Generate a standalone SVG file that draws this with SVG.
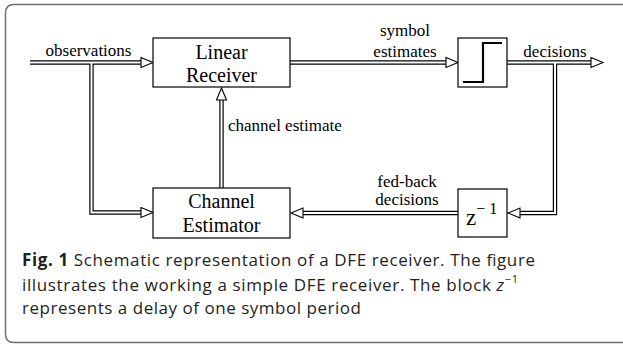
<svg xmlns="http://www.w3.org/2000/svg" width="623" height="346" viewBox="0 0 623 346">
  <style>
    .frame { fill: none; stroke: #707070; stroke-width: 1.5; }
    .box { fill: #ffffff; stroke: #000000; stroke-width: 1.2; }
    .boxtxt { font-family: "Liberation Serif", "Times New Roman", serif; font-size: 20px; fill: #000000; text-anchor: middle; }
    .lbl { font-family: "Liberation Serif", "Times New Roman", serif; font-size: 17px; fill: #000000; }
    .mid { text-anchor: middle; }
    .outer { fill: none; stroke: #000000; stroke-width: 4.4; stroke-linejoin: miter; }
    .inner { fill: none; stroke: #ffffff; stroke-width: 2; stroke-linejoin: miter; }
    .head { fill: #ffffff; stroke: #000000; stroke-width: 1.1; stroke-linejoin: miter; }
    .step { fill: none; stroke: #000000; stroke-width: 2.2; }
    .cap { font-family: "Open Sans", "Noto Sans", sans-serif; font-size: 17px; fill: #231f20; }
  </style>
  <defs>
    <!-- hollow arrowhead, tip at origin, pointing along +x -->
    <path id="head" class="head" d="M-12,-5 L0,0 L-12,5 Z"/>
  </defs>

  <!-- caption frame, open on the right -->
  <path class="frame" d="M630,4.5 H14 Q5.5,4.5 5.5,13 V334 Q5.5,342.5 14,342.5 H630"/>

  <!-- connectors: double lines with hollow heads -->
  <g id="connectors">
    <g>
      <path class="outer" d="M30,62.5 H141"/>
      <path class="outer" d="M91.5,62.5 V212.5 H141"/>
      <path class="outer" d="M290,62.5 H446"/>
      <path class="outer" d="M507,62.5 H591"/>
      <path class="outer" d="M555,62.5 V213 H520"/>
      <path class="outer" d="M458,213 H303"/>
      <path class="outer" d="M221.5,188 V100"/>
    </g>
    <g>
      <path class="inner" d="M30,62.5 H141"/>
      <path class="inner" d="M91.5,62.5 V212.5 H141"/>
      <path class="inner" d="M290,62.5 H446"/>
      <path class="inner" d="M507,62.5 H591"/>
      <path class="inner" d="M555,62.5 V213 H520"/>
      <path class="inner" d="M458,213 H303"/>
      <path class="inner" d="M221.5,188 V100"/>
    </g>
    <use href="#head" transform="translate(153,62.5)"/>
    <use href="#head" transform="translate(153,212.5)"/>
    <use href="#head" transform="translate(458,62.5)"/>
    <use href="#head" transform="translate(603,62.5)"/>
    <use href="#head" transform="translate(508,213) rotate(180)"/>
    <use href="#head" transform="translate(291,213) rotate(180)"/>
    <use href="#head" transform="translate(221.5,88) rotate(-90)"/>

    <text class="lbl mid" x="88.5" y="56">observations</text>
    <text class="lbl mid" x="405" y="36">symbol</text>
    <text class="lbl mid" x="405" y="56.5">estimates</text>
    <text class="lbl mid" x="555" y="57">decisions</text>
    <text class="lbl" x="228" y="131">channel estimate</text>
    <text class="lbl mid" x="407" y="187">fed-back</text>
    <text class="lbl mid" x="407" y="205">decisions</text>
  </g>

  <g id="linear-receiver">
    <rect class="box" x="153" y="38" width="137" height="49"/>
    <text class="boxtxt" x="221.5" y="59">Linear</text>
    <text class="boxtxt" x="221.5" y="82">Receiver</text>
  </g>

  <g id="decision-device">
    <rect class="box" x="458" y="38" width="49" height="49"/>
    <path class="step" d="M463,82 H483 V43 H502"/>
  </g>

  <g id="channel-estimator">
    <rect class="box" x="153" y="188" width="137" height="50"/>
    <text class="boxtxt" x="221.5" y="208">Channel</text>
    <text class="boxtxt" x="221.5" y="232">Estimator</text>
  </g>

  <g id="delay">
    <rect class="box" x="458" y="189" width="49" height="48"/>
    <text font-family="Liberation Serif, Times New Roman, serif" font-size="23" x="466" y="225">z<tspan font-size="16" dy="-11">− 1</tspan></text>
  </g>

  <!-- caption -->
  <g id="caption">
    <text class="cap" x="22" y="266" textLength="513" lengthAdjust="spacing"><tspan font-weight="bold">Fig. 1</tspan> Schematic representation of a DFE receiver. The figure</text>
    <text class="cap" x="22" y="291" textLength="496" lengthAdjust="spacing">illustrates the working a simple DFE receiver. The block <tspan font-style="italic">z</tspan><tspan font-size="11" dy="-8">−1</tspan></text>
    <text class="cap" x="22" y="314" textLength="339" lengthAdjust="spacing">represents a delay of one symbol period</text>
  </g>
</svg>
